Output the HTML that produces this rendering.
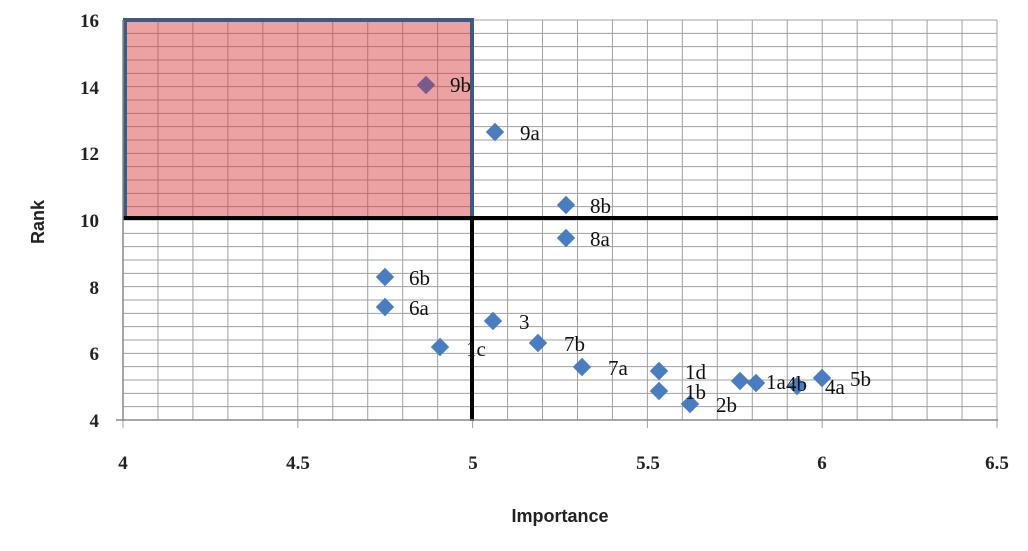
<!DOCTYPE html>
<html><head><meta charset="utf-8"><style>
html,body{margin:0;padding:0;background:#fff;}
svg{display:block;font-family:"Liberation Sans",sans-serif;}
.t{font-size:19px;font-weight:bold;fill:#222;font-family:"Liberation Serif",serif;}
.a{font-size:18px;font-weight:bold;fill:#222;}
.l{font-size:21px;fill:#111;font-family:"Liberation Serif",serif;}
</style></head><body>
<svg id="s" width="1028" height="551" viewBox="0 0 1028 551">
<g id="grid" stroke="#a0a0a0" stroke-width="1"></g>
<rect x="125" y="20" width="347" height="198" fill="rgb(215,60,60)" fill-opacity="0.48"/>
<rect x="125" y="20" width="347" height="198" fill="none" stroke="#3f5a82" stroke-width="4"/>
<line x1="123" y1="218" x2="998" y2="218" stroke="#000" stroke-width="4"/>
<line x1="472" y1="218" x2="472" y2="421" stroke="#000" stroke-width="4"/>
<line x1="123" y1="20" x2="123" y2="421" stroke="#888" stroke-width="1.5"/>
<line x1="116" y1="420" x2="998" y2="420" stroke="#888" stroke-width="1.5"/>
<g class="t" text-anchor="end">
<text x="99" y="27">16</text><text x="99" y="94">14</text><text x="99" y="160">12</text>
<text x="99" y="227">10</text><text x="99" y="294">8</text><text x="99" y="360">6</text><text x="99" y="427">4</text>
</g>
<g class="t" text-anchor="middle">
<text x="123" y="469">4</text><text x="298" y="469">4.5</text><text x="473" y="469">5</text>
<text x="648" y="469">5.5</text><text x="822" y="469">6</text><text x="997" y="469">6.5</text>
</g>
<g class="a" text-anchor="middle">
<text x="560" y="522">Importance</text>
<text transform="translate(44,222) rotate(-90)">Rank</text>
</g>
<g id="pts"></g>
<g class="l">
<text x="450" y="92">9b</text><text x="520" y="140">9a</text>
<text x="590" y="213">8b</text><text x="590" y="246">8a</text>
<text x="409" y="285">6b</text><text x="409" y="315">6a</text>
<text x="519" y="329">3</text><text x="466" y="356">1c</text>
<text x="564" y="351">7b</text><text x="608" y="375">7a</text>
<text x="685" y="379">1d</text><text x="685" y="399">1b</text><text x="716" y="412">2b</text>
<text x="766" y="389">1a</text><text x="786" y="391">4b</text>
<text x="825" y="394">4a</text><text x="850" y="386">5b</text>
</g>
</svg>
<script>
var g=document.getElementById('grid'),ns='http://www.w3.org/2000/svg';
function L(x1,y1,x2,y2){var l=document.createElementNS(ns,'line');l.setAttribute('x1',x1);l.setAttribute('y1',y1);l.setAttribute('x2',x2);l.setAttribute('y2',y2);g.appendChild(l);}
for(var i=0;i<=25;i++){var x=123+i*874/25;L(x,20,x,428-(i%5?8:0));}
for(var j=0;j<=30;j++){var y=20+j*400/30;L(123,y,997,y);}
var p=document.getElementById('pts');
var pts=[[426,85,'#7a5a8c'],[495,132],[566,205],[566,238],[385,277],[385,307],[493,321],[440,347],[538,343],[582,367],[659,371],[659,391],[690,404],[740,381],[756,383],[797,386],[822,378]];
pts.forEach(function(q){var r=document.createElementNS(ns,'rect');r.setAttribute('x',q[0]-6.5);r.setAttribute('y',q[1]-6.5);r.setAttribute('width',13);r.setAttribute('height',13);r.setAttribute('fill',q[2]||'#4a7cc0');r.setAttribute('transform','rotate(45 '+q[0]+' '+q[1]+')');p.appendChild(r);});
</script>
</body></html>
